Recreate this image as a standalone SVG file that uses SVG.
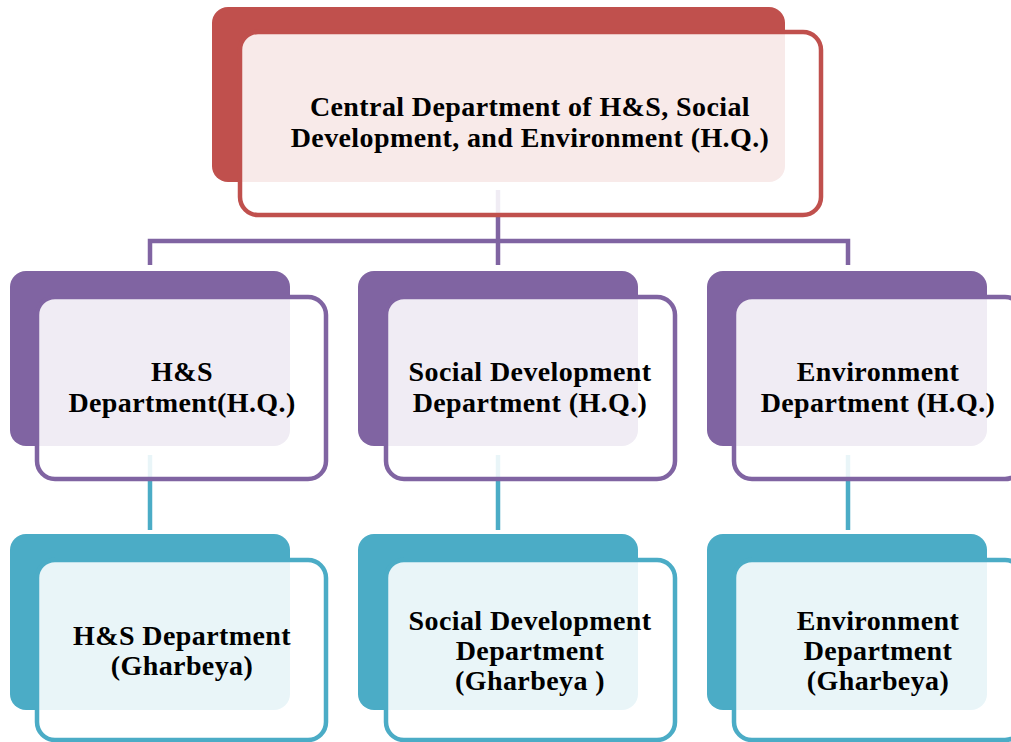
<svg xmlns="http://www.w3.org/2000/svg" width="1011" height="742" viewBox="0 0 1011 742">
  <style>
    .lbl { font-family: "Liberation Serif", "Times New Roman", serif; font-weight: bold; font-size: 28px; letter-spacing: 0.4px; fill: #000; text-anchor: middle; }
    .face { fill: #ffffff; fill-opacity: 0.88; stroke-width: 4.5; }
    .red .back { fill: #C0504D; }
    .red .face { stroke: #C0504D; }
    .purple .back { fill: #8064A2; }
    .purple .face { stroke: #8064A2; }
    .teal .back { fill: #4BACC6; }
    .teal .face { stroke: #4BACC6; }
    .conn { fill: none; stroke-width: 4.5; }
  </style>

  <!-- connectors sit behind the boxes -->
  <g id="connectors">
    <path class="conn" stroke="#8064A2" d="M498 190 V241 M150 265 V241 H848 V265 M498 241 V265"/>
    <path class="conn" stroke="#4BACC6" d="M150 455 V530 M498 455 V530 M848 455 V530"/>
  </g>

  <g id="hq-central" class="red">
    <rect class="back" x="212" y="7" width="573" height="175" rx="16"/>
    <rect class="face" x="240" y="32" width="581" height="183" rx="18"/>
    <text class="lbl" x="530" y="116">Central Department of H&amp;S, Social</text>
    <text class="lbl" x="530" y="147">Development, and Environment (H.Q.)</text>
  </g>

  <g id="hs-hq" class="purple">
    <rect class="back" x="10" y="271" width="280" height="175" rx="16"/>
    <rect class="face" x="37" y="297" width="289" height="182" rx="18"/>
    <text class="lbl" x="182" y="381">H&amp;S</text>
    <text class="lbl" x="182" y="412">Department(H.Q.)</text>
  </g>

  <g id="social-hq" class="purple">
    <rect class="back" x="358" y="271" width="280" height="175" rx="16"/>
    <rect class="face" x="386" y="297" width="289" height="182" rx="18"/>
    <text class="lbl" x="530" y="381">Social Development</text>
    <text class="lbl" x="530" y="412">Department (H.Q.)</text>
  </g>

  <g id="env-hq" class="purple">
    <rect class="back" x="707" y="271" width="280" height="175" rx="16"/>
    <rect class="face" x="734" y="297" width="289" height="182" rx="18"/>
    <text class="lbl" x="878" y="381">Environment</text>
    <text class="lbl" x="878" y="412">Department (H.Q.)</text>
  </g>

  <g id="hs-gharbeya" class="teal">
    <rect class="back" x="10" y="534" width="280" height="176" rx="16"/>
    <rect class="face" x="37" y="560" width="289" height="180" rx="18"/>
    <text class="lbl" x="182" y="645">H&amp;S Department</text>
    <text class="lbl" x="182" y="675">(Gharbeya)</text>
  </g>

  <g id="social-gharbeya" class="teal">
    <rect class="back" x="358" y="534" width="280" height="176" rx="16"/>
    <rect class="face" x="386" y="560" width="289" height="180" rx="18"/>
    <text class="lbl" x="530" y="630">Social Development</text>
    <text class="lbl" x="530" y="660">Department</text>
    <text class="lbl" x="530" y="690">(Gharbeya )</text>
  </g>

  <g id="env-gharbeya" class="teal">
    <rect class="back" x="707" y="534" width="280" height="176" rx="16"/>
    <rect class="face" x="734" y="560" width="289" height="180" rx="18"/>
    <text class="lbl" x="878" y="630">Environment</text>
    <text class="lbl" x="878" y="660">Department</text>
    <text class="lbl" x="878" y="690">(Gharbeya)</text>
  </g>
</svg>
